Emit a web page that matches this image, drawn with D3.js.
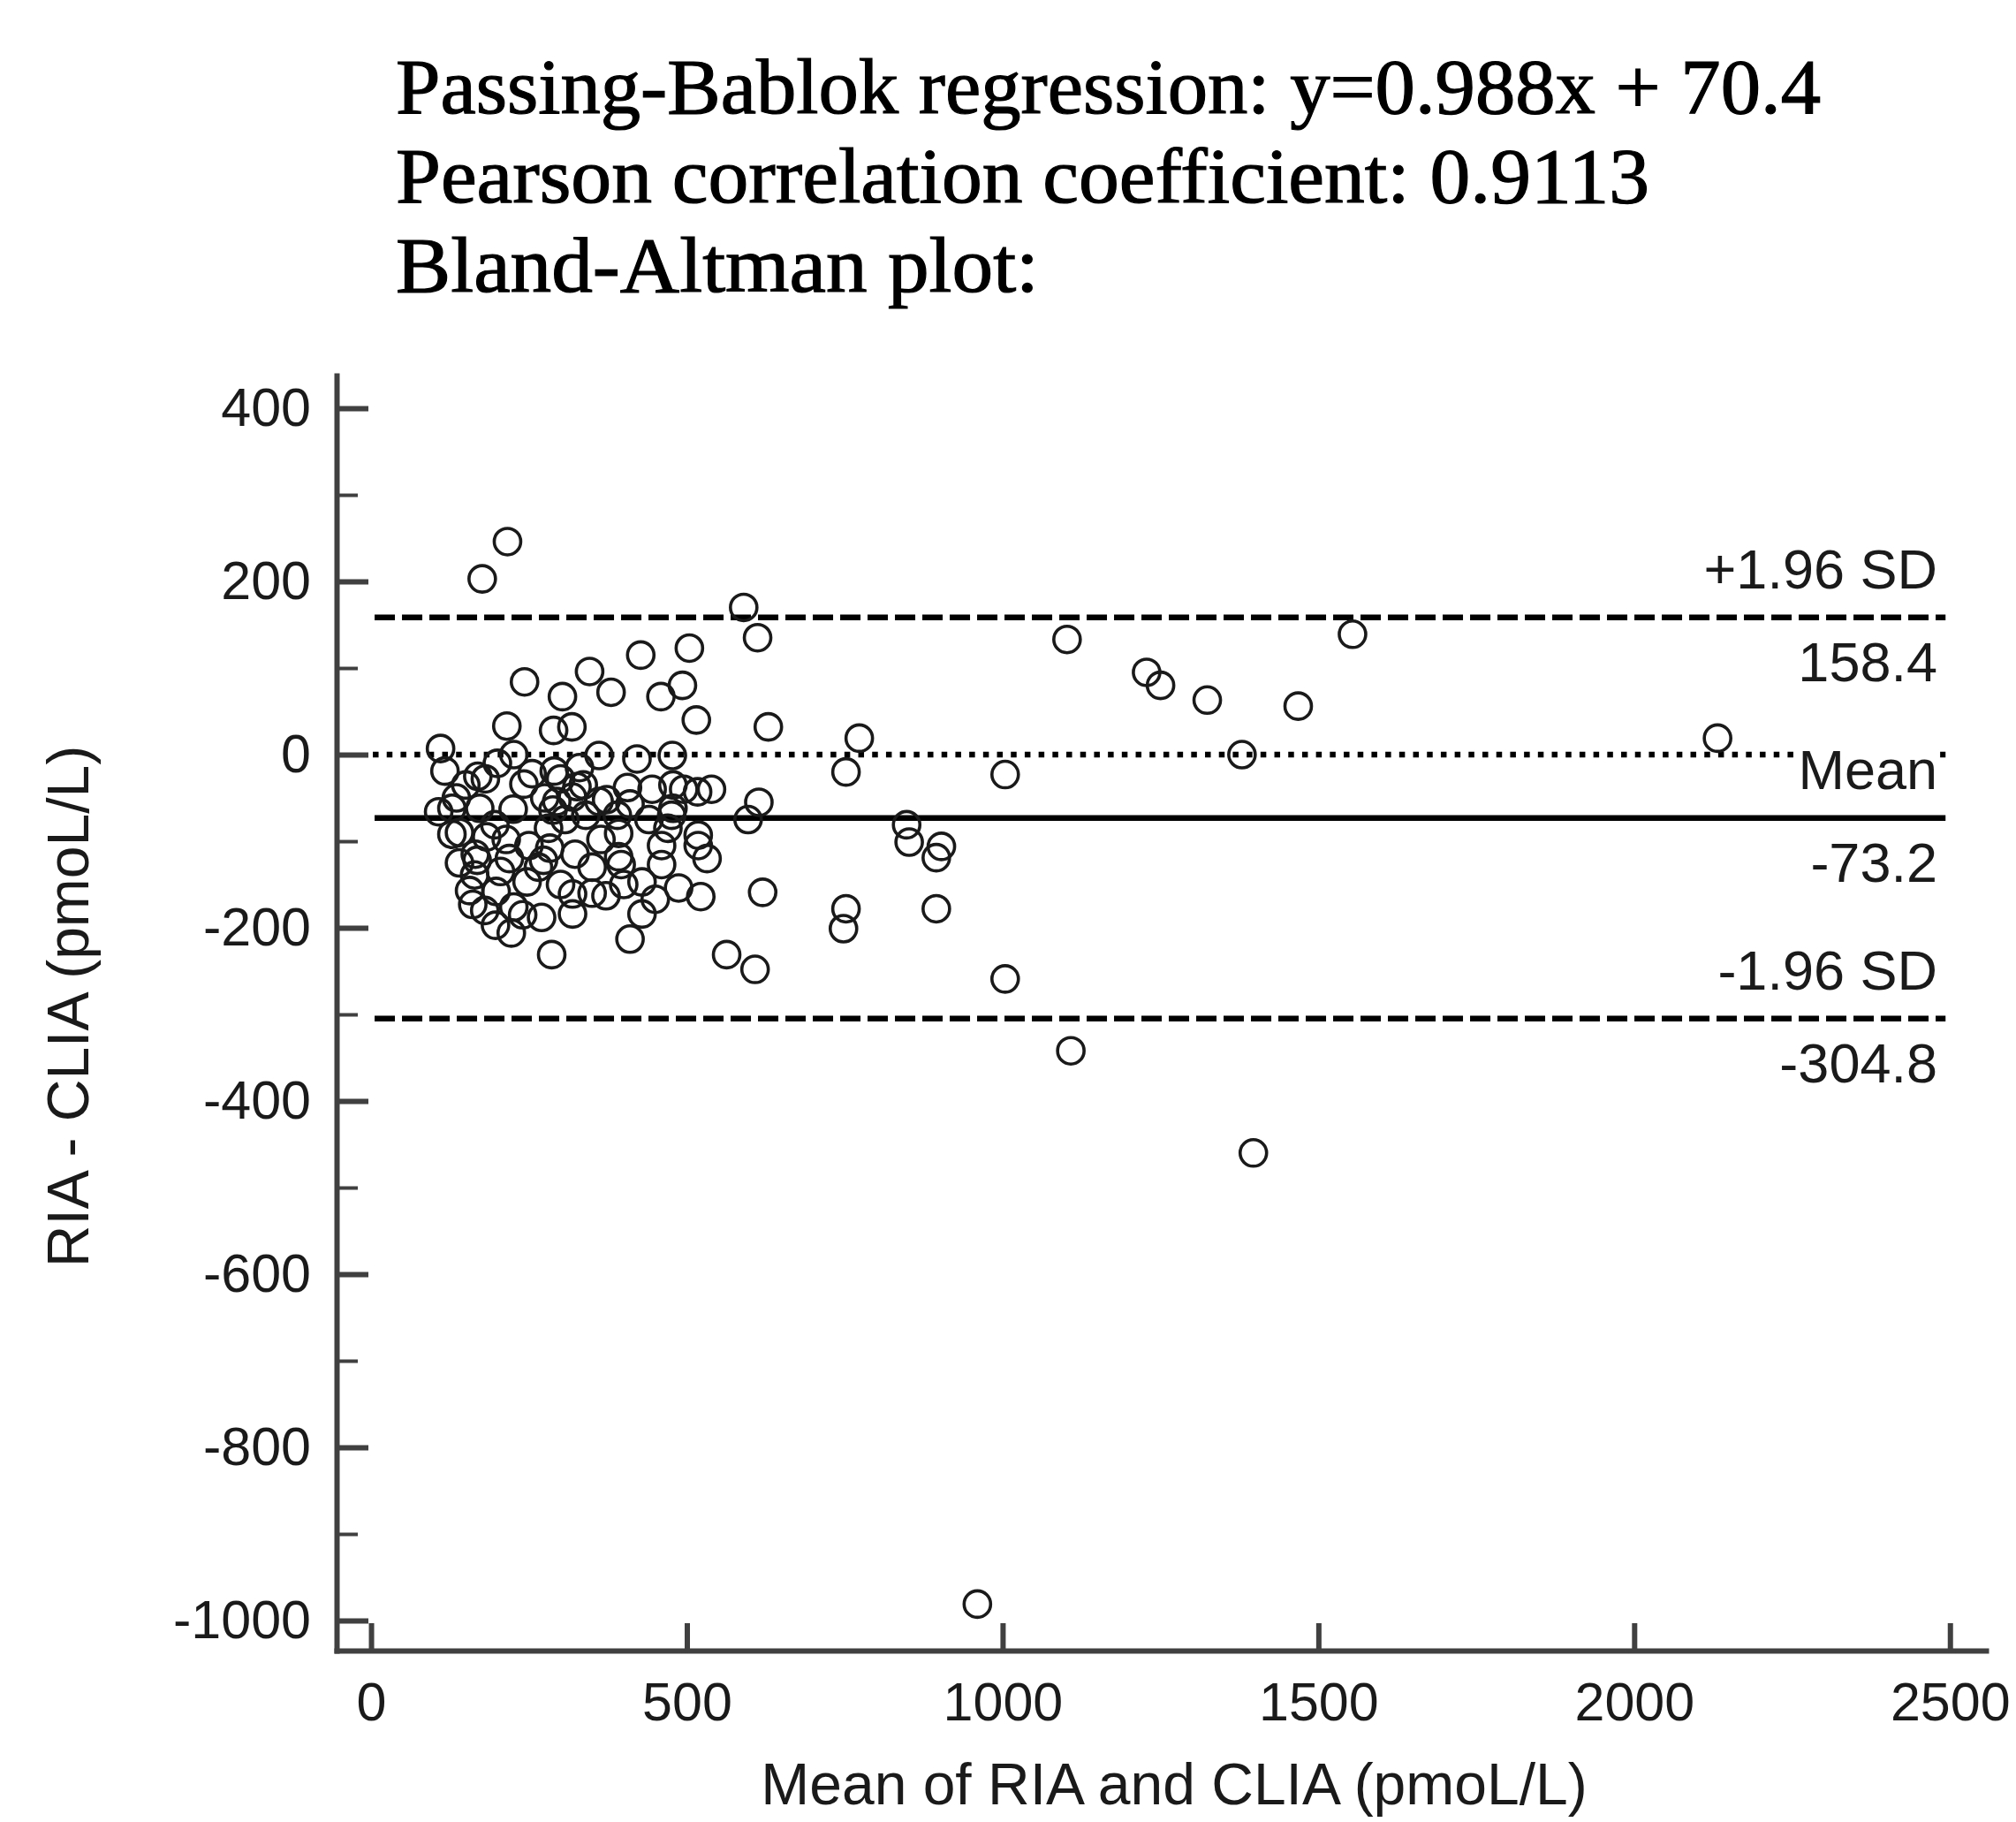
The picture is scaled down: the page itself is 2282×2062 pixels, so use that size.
<!DOCTYPE html>
<html>
<head>
<meta charset="utf-8">
<script src="https://cdn.jsdelivr.net/npm/d3@7"></script>
<style>
  body { margin: 0; background: #fff; }
</style>
</head>
<body>
<script>
// header text
var titleLines = [
  "Passing-Bablok regression: y=0.988x + 70.4",
  "Pearson correlation coefficient: 0.9113",
  "Bland-Altman plot:"
]

// mean of RIA and CLIA (x) and RIA - CLIA (y), pmol/L
var meanVals = [
  176, 216, 590, 612, 427, 504, 493, 459, 346, 380, 303, 243, 215, 289, 318, 515, 629, 773, 752, 1004,
  1102, 1228, 1250, 1324, 1468, 1554, 1379, 2132, 1397, 1108, 1004, 960, 895, 895, 903, 848, 852, 752, 748, 620,
  608, 563, 597, 614, 522, 286, 410,
  110, 117, 169, 181, 226, 242, 275, 294, 336, 361, 361, 421, 477, 406, 445, 478, 517, 539, 478, 410,
  373, 128, 107, 172, 225, 128, 183, 214, 281, 196, 165, 140, 283, 323, 273, 364, 392, 518, 518, 532,
  396, 460, 429, 487, 450, 372, 429, 156, 161, 198, 226, 197, 222, 270, 319, 319, 247, 164,
  288, 319, 255, 300, 200, 150, 135, 340, 390, 440, 470, 250, 300, 350, 205, 180, 240, 400, 460, 495,
  330, 140, 265, 350, 290, 326, 476, 307, 219, 168, 392
]
var diffVals = [
  203, 246, 170, 135, 115, 123, 80, 67, 96, 72, 67, 84, 33, 28, 32, 40, 32, 19, -20, -23,
  133, 95, 80, 63, 56, 139, 0, 19, -460, -342, -259, -981, -178, -119, -106, -81, -101, -178, -201, -159,
  -248, -231, -75, -55, -164, -231, -213,
  7, -19, -25, -28, 0, -34, -50, -54, -35, -54, -1, -5, -1, -38, -40, -35, -43, -40, -62, -57,
  -52, -62, -66, -62, -63, -92, -95, -98, -85, -81, -115, -125, -108, -115, -122, -98, -91, -93, -105, -120,
  -127, -127, -147, -154, -167, -163, -184, -157, -173, -158, -176, -197, -206, -188, -161, -184, -147, -139,
  -64, -49, -22, -28, -10, -35, -50, -70, -70, -75, -85, -105, -150, -130, -135, -180, -185, -150, -105, -40,
  -15, -90, -130, -160, -19, -37, -70, -75, -120, -122, -118
]

// horizontal reference lines: +1.96 SD, mean, -1.96 SD
var limitVals = [158.4, -73.2, -304.8]
var limitNames = ["+1.96 SD", "Mean", "-1.96 SD"]
var limitStyles = ["dashed", "solid", "dashed"]

var xTicks = [0, 500, 1000, 1500, 2000, 2500]
var yTicks = [400, 200, 0, -200, -400, -600, -800, -1000]
var yMinor = [300, 100, -100, -300, -500, -700, -900]

var W = 2282, H = 2062
var axisColor = "#404040"
var inkColor = "#1a1a1a"
var sans = "'Liberation Sans', Arial, sans-serif"

var svg = d3.select("body").append("svg")
  .attr("width", W)
  .attr("height", H)

var x = d3.scaleLinear().domain([-54.6, 2557]).range([381, 2248])
var y = d3.scaleLinear().domain([-1034.7, 437.8]).range([1868, 425])

// plain number text, ascii minus
var plain = function(d) { return String(d) }

// title lines (serif)
var titleWidths = [1613, 1419, 728]
svg.append("g").selectAll("text")
  .data(titleLines)
  .enter().append("text")
  .attr("x", 448)
  .attr("y", function(d, i) { return 128 + i * 101 })
  .attr("font-family", "'Liberation Serif', 'Times New Roman', serif")
  .attr("font-size", 88)
  .attr("fill", "#000")
  .attr("stroke", "#000")
  .attr("stroke-width", 1.2)
  .attr("textLength", function(d, i) { return titleWidths[i] })
  .attr("lengthAdjust", "spacingAndGlyphs")
  .text(function(d) { return d })

// zero line (dotted)
svg.append("line")
  .attr("x1", x(0) + 2).attr("x2", x(2493))
  .attr("y1", y(0)).attr("y2", y(0))
  .attr("stroke", "#000")
  .attr("stroke-width", 6.5)
  .attr("stroke-dasharray", "6.5,9.2")

// mean and limits of agreement
svg.append("g").selectAll("line")
  .data(limitVals)
  .enter().append("line")
  .attr("x1", function(d) { return x(0) + 4 })
  .attr("x2", function(d) { return x(2493) })
  .attr("y1", function(d) { return y(d) })
  .attr("y2", function(d) { return y(d) })
  .attr("stroke", "#000")
  .attr("stroke-width", 6.5)
  .attr("stroke-dasharray", function(d, i) { return limitStyles[i] == "solid" ? null : "23,8" })

// points
svg.append("g").selectAll("circle")
  .data(meanVals)
  .enter().append("circle")
  .attr("cx", function(d) { return x(d) })
  .attr("cy", function(d, i) { return y(diffVals[i]) })
  .attr("r", 15)
  .attr("fill", "none")
  .attr("stroke", inkColor)
  .attr("stroke-width", 3.6)

// labels at the right end of the lines, with white backing
var labelX = 2193
var labs = []
limitVals.forEach(function(v, i) {
  labs.push({ text: limitNames[i], y: y(v) - 33 })
  labs.push({ text: v.toFixed(1), y: y(v) + 72 })
})
var labG = svg.append("g")
labs.forEach(function(l) {
  var bg = labG.append("rect").attr("fill", "#fff")
  var t = labG.append("text")
    .attr("x", labelX)
    .attr("y", l.y)
    .attr("text-anchor", "end")
    .attr("font-family", sans)
    .attr("font-size", 63)
    .attr("fill", inkColor)
    .text(l.text)
  var bb = t.node().getBBox()
  bg.attr("x", bb.x - 4).attr("y", bb.y).attr("width", bb.width + 4).attr("height", bb.height)
})

// axes
var xAxis = svg.append("g")
  .attr("transform", "translate(0," + y.range()[0] + ")")
  .call(d3.axisBottom(x).tickValues(xTicks).tickFormat(plain)
    .tickSize(-31).tickSizeOuter(0).tickPadding(36))

var yAxis = svg.append("g")
  .attr("transform", "translate(" + x.range()[0] + ",0)")
  .call(d3.axisLeft(y).tickValues(yTicks).tickFormat(plain)
    .tickSize(-36).tickSizeOuter(0).tickPadding(29))

var yAxisMinor = svg.append("g")
  .attr("transform", "translate(" + x.range()[0] + ",0)")
  .call(d3.axisLeft(y).tickValues(yMinor).tickSize(-24).tickFormat(""))

yAxisMinor.select(".domain").remove()
yAxisMinor.selectAll("line").attr("stroke-width", 4)

;[xAxis, yAxis, yAxisMinor].forEach(function(a) {
  a.attr("color", axisColor)
  a.select(".domain").attr("stroke-width", 6).attr("stroke-linecap", "square")
  a.selectAll(".tick text")
    .attr("font-family", sans)
    .attr("font-size", 61)
    .attr("fill", inkColor)
})
xAxis.selectAll(".tick line").attr("stroke-width", 6)
yAxis.selectAll(".tick line").attr("stroke-width", 6)

// axis titles
svg.append("text")
  .attr("x", 1329)
  .attr("y", 2042)
  .attr("text-anchor", "middle")
  .attr("font-family", sans)
  .attr("font-size", 66)
  .attr("fill", inkColor)
  .text("Mean of RIA and CLIA (pmoL/L)")

svg.append("text")
  .attr("transform", "translate(100,1139) rotate(-90)")
  .attr("text-anchor", "middle")
  .attr("font-family", sans)
  .attr("font-size", 66)
  .attr("fill", inkColor)
  .text("RIA - CLIA (pmoL/L)")
</script>
</body>
</html>
